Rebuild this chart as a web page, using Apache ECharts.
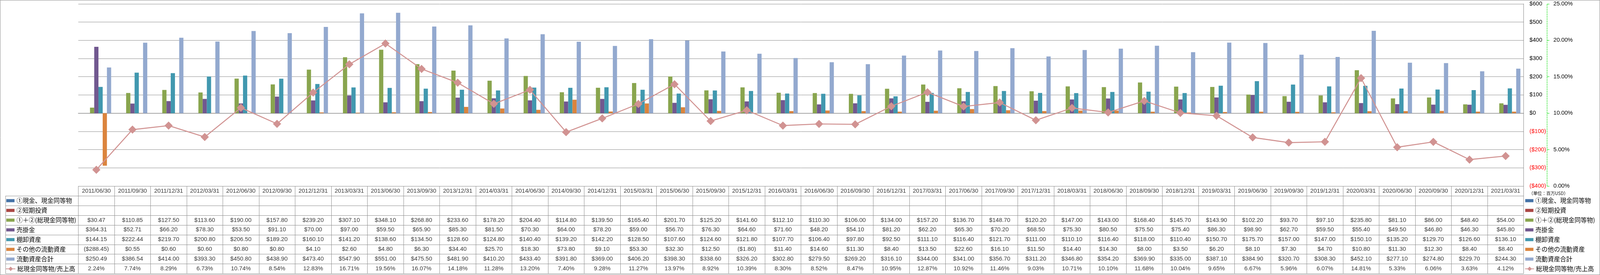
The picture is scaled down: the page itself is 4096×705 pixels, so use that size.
<!DOCTYPE html>
<html><head><meta charset="utf-8">
<script src="https://cdn.jsdelivr.net/npm/echarts/dist/echarts.min.js"></script>
<style>html,body{margin:0;padding:0;background:#fff}#c{width:4096px;height:705px}</style>
</head><body><div id="c"></div>
<script>
// ---------- data ----------
const categories = ['2011/06/30','2011/09/30','2011/12/31','2012/03/31','2012/06/30','2012/09/30','2012/12/31','2013/03/31','2013/06/30','2013/09/30','2013/12/31','2014/03/31','2014/06/30','2014/09/30','2014/12/31','2015/03/31','2015/06/30','2015/09/30','2015/12/31','2016/03/31','2016/06/30','2016/09/30','2016/12/31','2017/03/31','2017/06/30','2017/09/30','2017/12/31','2018/03/31','2018/06/30','2018/09/30','2018/12/31','2019/03/31','2019/06/30','2019/09/30','2019/12/31','2020/03/31','2020/06/30','2020/09/30','2020/12/31','2021/03/31'];
const seriesNames = ['①現金、現金同等物','②短期投資','①＋②(総現金同等物)','売掛金','棚卸資産','その他の流動資産','流動資産合計','総現金同等物/売上高'];
const cashEquivalents = [];
const shortTermInvestments = [];
const totalCash = [30.47,110.85,127.50,113.60,190.00,157.80,239.20,307.10,348.10,268.80,233.60,178.20,204.40,114.80,139.50,165.40,201.70,125.20,141.60,112.10,110.30,106.00,134.00,157.20,136.70,148.70,120.20,147.00,143.00,168.40,145.70,143.90,102.20,93.70,97.10,235.80,81.10,86.00,48.40,54.00];
const receivables = [364.31,52.71,66.20,78.30,53.50,91.10,70.00,97.00,59.50,65.90,85.30,81.50,70.30,64.00,78.20,59.00,56.70,76.30,64.60,71.60,48.20,54.10,81.20,62.20,65.30,70.20,68.50,75.30,80.50,75.50,75.40,86.30,98.90,62.70,59.50,55.40,49.50,46.80,46.30,45.80];
const inventory = [144.15,222.44,219.70,200.80,206.50,189.20,160.10,141.20,138.60,134.50,128.60,124.80,140.40,139.20,142.20,128.50,107.60,124.60,121.80,107.70,106.40,97.80,92.50,111.10,116.40,121.70,111.00,110.10,116.40,118.00,110.40,150.70,175.70,157.00,147.00,150.10,135.20,129.70,126.60,136.10];
const otherCurrentAssets = [-288.45,0.55,0.60,0.60,0.80,0.80,4.10,2.60,4.80,6.30,34.40,25.70,18.30,73.80,9.10,53.30,32.30,12.50,-1.80,11.40,14.60,11.30,8.40,13.50,22.60,16.10,11.50,14.40,14.30,8.00,3.50,6.20,8.10,7.30,4.70,10.80,11.30,12.30,8.40,8.40];
const totalCurrentAssets = [250.49,386.54,414.00,393.30,450.80,438.90,473.40,547.90,551.00,475.50,481.90,410.20,433.40,391.80,369.00,406.20,398.30,338.60,326.20,302.80,279.50,269.20,316.10,344.00,341.00,356.70,311.20,346.80,354.20,369.90,335.00,387.10,384.90,320.70,308.30,452.10,277.10,274.80,229.70,244.30];
const cashToSalesPct = [2.24,7.74,8.29,6.73,10.74,8.54,12.83,16.71,19.56,16.07,14.18,11.28,13.20,7.40,9.28,11.27,13.97,8.92,10.39,8.30,8.52,8.47,10.95,12.87,10.92,11.46,9.03,10.71,10.10,11.68,10.04,9.65,6.67,5.96,6.07,14.81,5.33,6.06,3.63,4.12];
const dollarAxis = {min: -400, max: 600, interval: 100};
const pctAxis = {min: 0, max: 25, interval: 5};
const unitLabel = '（単位：百万USD）';

// ---------- style / layout ----------
const colors = ['#4572A7','#AA4643','#89A54E','#71588F','#4198AF','#DB843D','#93A9CF','#D19392'];
const S = 0.657;
const FONT = "'Liberation Sans', Arial, sans-serif";
const CJK = "'Noto Sans CJK JP', sans-serif";
const GRID_C = '#8c8c8c';
const plotLeft = 305 * S, plotRight = 5937 * S, plotTop = 15 * S, plotBottom = 726 * S;
const rowH = 38 * S;
const colLeft = 21 * S;

const fmtMoney = v => v < 0 ? '($' + (-v).toFixed(2) + ')' : '$' + v.toFixed(2);
const fmtPct = v => v.toFixed(2) + '%';

const barArrays = [cashEquivalents, shortTermInvestments, totalCash, receivables, inventory, otherCurrentAssets, totalCurrentAssets];

const cells = [];
categories.forEach((c, i) => cells.push([i, 0, c]));
barArrays.forEach((arr, r) => arr.forEach((v, i) => cells.push([i, r + 1, fmtMoney(v)])));
cashToSalesPct.forEach((v, i) => cells.push([i, 8, fmtPct(v)]));

const barSeries = barArrays.map((d, i) => ({
  type: 'bar', name: seriesNames[i], xAxisIndex: 0, yAxisIndex: 0,
  data: d, itemStyle: {color: colors[i]}, barGap: '0%', barCategoryGap: '18%', silent: true
}));

const legendText = {fontSize: 15.8, lineHeight: rowH, color: '#000', fontFamily: CJK};
const mkLegend = (left, top, data, iw, ih, icon) => ({
  orient: 'vertical', left: left, top: top, padding: 0, itemGap: 0,
  itemWidth: iw, itemHeight: ih, icon: icon, selectedMode: false,
  data: data, textStyle: legendText
});

const option = {
  animation: false,
  textStyle: {fontFamily: FONT},
  grid: [
    {left: plotLeft, top: plotTop, width: plotRight - plotLeft, height: plotBottom - plotTop, containLabel: false, outerBoundsMode: 'none'},
    {left: plotLeft, top: plotBottom, width: plotRight - plotLeft, height: 9 * rowH, containLabel: false, outerBoundsMode: 'none'},
    {left: colLeft, top: plotBottom + rowH, width: plotLeft - colLeft, height: 8 * rowH, containLabel: false, outerBoundsMode: 'none'}
  ],
  xAxis: [
    {type: 'category', gridIndex: 0, data: categories, boundaryGap: true,
     axisLine: {show: true, onZero: true, lineStyle: {color: '#868686', width: 1.4}},
     axisTick: {show: false}, axisLabel: {show: false}, splitLine: {show: false}},
    {type: 'category', gridIndex: 1, data: categories, boundaryGap: true,
     axisLine: {show: false}, axisTick: {show: false}, axisLabel: {show: false},
     splitLine: {show: true, interval: 0, lineStyle: {color: GRID_C, width: 1}}},
    {type: 'category', gridIndex: 2, data: ['legend'], boundaryGap: true,
     axisLine: {show: false}, axisTick: {show: false}, axisLabel: {show: false},
     splitLine: {show: true, interval: 0, lineStyle: {color: GRID_C, width: 1}}}
  ],
  yAxis: [
    {type: 'value', gridIndex: 0, position: 'right', min: dollarAxis.min, max: dollarAxis.max, interval: dollarAxis.interval,
     axisLine: {show: true, lineStyle: {color: '#868686', width: 1}}, axisTick: {show: false},
     axisLabel: {margin: 15, fontSize: 14.6, fontFamily: FONT,
       formatter: v => v < 0 ? '($' + (-v) + ')' : '$' + v,
       color: v => Number(v) < 0 ? '#ff0000' : '#000000'},
     splitLine: {show: true, lineStyle: {color: GRID_C, width: 1}}},
    {type: 'value', gridIndex: 0, position: 'right', offset: 59.8, min: pctAxis.min, max: pctAxis.max, interval: pctAxis.interval,
     axisLine: {show: true, lineStyle: {color: '#00dd00', width: 1, type: 'dashed'}},
     axisTick: {show: true, inside: false, length: 6, lineStyle: {color: '#00dd00', width: 1}},
     axisLabel: {margin: 16.4, fontSize: 14.6, color: '#000', fontFamily: FONT, formatter: v => Number(v).toFixed(2) + '%'},
     splitLine: {show: false}},
    {type: 'category', gridIndex: 1, inverse: true, data: ['h','r1','r2','r3','r4','r5','r6','r7','r8'], boundaryGap: true,
     axisLine: {show: false}, axisTick: {show: false}, axisLabel: {show: false},
     splitLine: {show: true, interval: 0, lineStyle: {color: GRID_C, width: 1}}},
    {type: 'category', gridIndex: 2, inverse: true, data: ['r1','r2','r3','r4','r5','r6','r7','r8'], boundaryGap: true,
     axisLine: {show: false}, axisTick: {show: false}, axisLabel: {show: false},
     splitLine: {show: true, interval: 0, lineStyle: {color: GRID_C, width: 1}}}
  ],
  legend: [
    mkLegend(24.6 * S, plotBottom + rowH, seriesNames.slice(0, 7), 21, 8, 'rect'),
    mkLegend(colLeft + 0.5, plotBottom + 8 * rowH, [seriesNames[7]], 24, 14, undefined),
    mkLegend(5943 * S, plotBottom + rowH, seriesNames.slice(0, 7), 21, 8, 'rect'),
    mkLegend(5941 * S, plotBottom + 8 * rowH, [seriesNames[7]], 23, 14, undefined)
  ],
  graphic: [
    {type: 'rect', silent: true, z: -10, shape: {x: 0.5, y: 0.5, width: 4095, height: 704}, style: {fill: 'none', stroke: GRID_C, lineWidth: 1}},
    {type: 'text', silent: true, x: 5957 * S, y: 755 * S, style: {text: unitLabel, fontSize: 11.2, fontFamily: CJK, fill: '#000', textVerticalAlign: 'middle'}}
  ],
  series: barSeries.concat([
    {type: 'line', name: seriesNames[7], xAxisIndex: 0, yAxisIndex: 1, data: cashToSalesPct,
     symbol: 'diamond', symbolSize: 21, z: 5, silent: true,
     itemStyle: {color: colors[7]}, lineStyle: {color: colors[7], width: 2.6}},
    {type: 'scatter', name: 'table', xAxisIndex: 1, yAxisIndex: 2, data: cells, symbolSize: 0, silent: true,
     itemStyle: {color: 'transparent'},
     label: {show: true, position: 'inside', formatter: p => p.data[2], color: '#000', fontSize: 15, fontFamily: FONT}}
  ])
};

const chart = echarts.init(document.getElementById('c'), null, {renderer: 'canvas'});
chart.setOption(option);
</script>
</body></html>
